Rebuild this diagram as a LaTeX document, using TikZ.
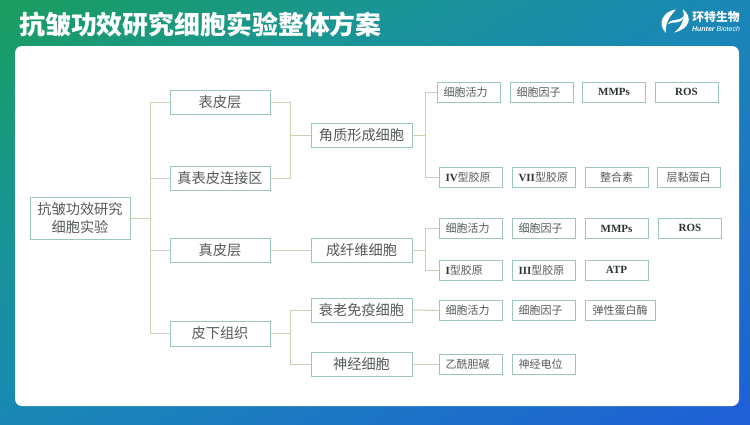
\documentclass[tikz,border=0pt]{standalone}
\usepackage{fontspec}
\newfontfamily\cjk{Noto Sans CJK SC}
\newfontfamily\latn{Liberation Serif}
\newfontfamily\logofont{Liberation Sans}
\newcommand{\lat}[1]{{\latn\bfseries\color{ink}#1}}
\definecolor{ink}{HTML}{2E3436}
\definecolor{grayink}{HTML}{565A5A}
\definecolor{edgeteal}{HTML}{9CC6BC}
\definecolor{linkolive}{HTML}{CBD2B2}
\definecolor{bggreen}{HTML}{1A9E58}
\definecolor{bgteal}{HTML}{1A9690}
\definecolor{bgsky}{HTML}{1A88B5}
\definecolor{bgblue}{HTML}{1F5ED8}
\pgfdeclareverticalshading{bgshade}{100bp}{color(0bp)=(bgblue); color(25bp)=(bgblue); color(50bp)=(bgsky);
  color(62.5bp)=(bgteal); color(75bp)=(bggreen); color(100bp)=(bggreen)}
\tikzset{
  bigbox/.style={draw=edgeteal,line width=1pt,fill=white,inner sep=0pt,minimum width=100pt,minimum height=24pt,
    text=grayink,font=\cjk\fontsize{14.2}{18}\selectfont,align=center},
  smallbox/.style={draw=edgeteal,line width=1pt,fill=white,inner sep=0pt,minimum width=63pt,minimum height=20pt,
    text=grayink,font=\cjk\fontsize{11}{14}\selectfont},
  leftbox/.style={smallbox,text width=50pt,align=left},
  link/.style={draw=linkolive,line width=1pt},
}
\begin{document}
\begin{tikzpicture}[x=1pt,y=-1pt]
  \useasboundingbox (0,0) rectangle (750,424);
  % background
  \begin{scope}
    \clip (0,0) rectangle (750,424);
    \shade[shading=bgshade,shading angle=30] (-10,-178) rectangle (760,592);
  \end{scope}
  \fill[white,rounded corners=7pt] (15,46) rectangle (739,406);
  \node[text=white,font=\cjk\bfseries\fontsize{25.9}{30}\selectfont,anchor=west,inner sep=0pt] (title) at (19,25)
    {抗皱功效研究细胞实验整体方案};
  % logo
  \fill[white] (676,9.5) .. controls (664,11) and (656,23) .. (666,33)
    .. controls (665,25) and (668,18) .. (676,9.5) -- cycle;
  \fill[white] (683,9.5) .. controls (693,17) and (690,29) .. (674,32.5)
    .. controls (682,27) and (685,18) .. (683,9.5) -- cycle;
  \fill[white] (668,24) .. controls (672,17) and (677,23) .. (684,16)
    .. controls (681,26) and (673,20.5) .. (668,24) -- cycle;
  \node[text=white,font=\cjk\bfseries\fontsize{11.8}{14}\selectfont,inner sep=0pt] (logoname) at (716,17.5) {环特生物};
  \node[text=white,font=\logofont\itshape\fontsize{7}{8}\selectfont,inner sep=0pt] (logotag) at (716,28.5)
    {\textbf{Hunter} Biotech};
  % level 1 and 2
  \node[bigbox,minimum width=100pt,minimum height=42pt] (root) at (80,218) {抗皱功效研究\\细胞实验};
  \node[bigbox] (epi) at (220,102) {表皮层};
  \node[bigbox] (dej) at (220,178) {真表皮连接区};
  \node[bigbox] (der) at (220,250) {真皮层};
  \node[bigbox,minimum height=25pt] (sub) at (220,333.5) {皮下组织};
  \node[bigbox,minimum width=101pt] (kera) at (361.5,135) {角质形成细胞};
  \node[bigbox,minimum width=101pt] (fibro) at (361.5,250) {成纤维细胞};
  \node[bigbox,minimum width=101pt] (sene) at (361.5,310) {衰老免疫细胞};
  \node[bigbox,minimum width=101pt] (neuro) at (361.5,364) {神经细胞};
  % keratinocyte rows
  \node[leftbox] (ka) at (468.5,92) {细胞活力};
  \node[leftbox] (kb) at (541.5,92) {细胞因子};
  \node[smallbox] (kc) at (614,92) {\lat{MMPs}};
  \node[smallbox] (kd) at (686.5,92) {\lat{ROS}};
  \node[leftbox] (ke) at (470.5,177) {\lat{IV}型胶原};
  \node[leftbox] (kf) at (543.5,177) {\lat{VII}型胶原};
  \node[smallbox] (kg) at (616.5,177) {整合素};
  \node[smallbox] (kh) at (688.5,177) {层黏蛋白};
  % fibroblast rows
  \node[leftbox] (fa) at (470.5,228.5) {细胞活力};
  \node[leftbox] (fb) at (543.5,228.5) {细胞因子};
  \node[smallbox] (fc) at (616.5,228.5) {\lat{MMPs}};
  \node[smallbox] (fd) at (690,228) {\lat{ROS}};
  \node[leftbox] (fe) at (470.5,270) {\lat{I}型胶原};
  \node[leftbox] (ff) at (543.5,270) {\lat{III}型胶原};
  \node[smallbox] (fg) at (616.5,270) {\lat{ATP}};
  % senescent and neuron rows
  \node[leftbox] (sa) at (470.5,310.5) {细胞活力};
  \node[leftbox] (sb) at (543.5,310.5) {细胞因子};
  \node[smallbox,minimum width=70pt] (sc) at (620,310.5) {弹性蛋白酶};
  \node[leftbox] (na) at (470.5,364) {乙酰胆碱};
  \node[leftbox] (nb) at (543.5,364) {神经电位};
  % connectors
  \coordinate (busroot) at (150,218);
  \coordinate (busepi) at (290.5,135);
  \coordinate (bussub) at (290.5,333.5);
  \coordinate (buskera) at (425,135);
  \coordinate (busfibro) at (425,250);
  \draw[link] (root.east) -- (busroot);
  \draw[link] (busroot) |- (epi.west);
  \draw[link] (busroot) |- (dej.west);
  \draw[link] (busroot) |- (der.west);
  \draw[link] (busroot) |- (sub.west);
  \draw[link] (epi.east) -| (busepi);
  \draw[link] (dej.east) -| (busepi);
  \draw[link] (busepi) -- (kera.west);
  \draw[link] (der.east) -- (fibro.west);
  \draw[link] (sub.east) -- (bussub);
  \draw[link] (bussub) |- (sene.west);
  \draw[link] (bussub) |- (neuro.west);
  \draw[link] (kera.east) -- (buskera);
  \draw[link] (buskera) |- (ka.west);
  \draw[link] (buskera) |- (ke.west);
  \draw[link] (fibro.east) -- (busfibro);
  \draw[link] (busfibro) |- (fa.west);
  \draw[link] (busfibro) |- (fe.west);
  \draw[link] (sene.east) -- (sa.west);
  \draw[link] (neuro.east) -- (na.west);
\end{tikzpicture}
\end{document}
